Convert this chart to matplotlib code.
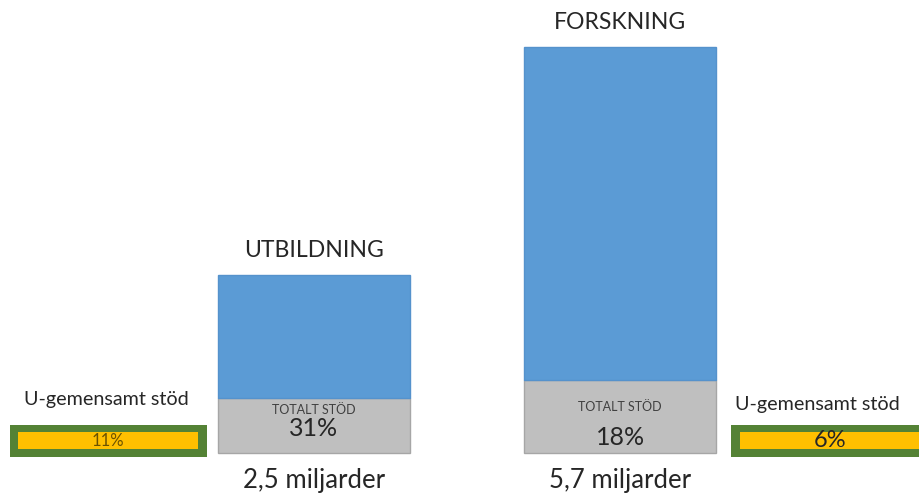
import matplotlib
matplotlib.use("Agg")
import matplotlib.pyplot as plt

# data
omraden = ["UTBILDNING", "FORSKNING"]
miljarder = [2.5, 5.7]
miljarder_txt = ["2,5 miljarder", "5,7 miljarder"]
totalt_stod = [0.31, 0.18]
u_gemensamt = [0.11, 0.06]

plt.rcParams['font.family'] = ['Lato', 'DejaVu Sans']

fig = plt.figure(figsize=(9.2, 4.94), dpi=100)
ax = fig.add_axes([0, 0, 1, 1])
ax.set_xlim(-1.026, 1.98)
ax.set_ylim(-0.576, 6.362)
ax.axis('off')

blue = '#5B9BD5'
gray = '#BFBFBF'
green = '#548235'
yellow = '#FFC000'
txt = '#262626'

x = [0, 1]
w = 0.627
gray_h = [m * t for m, t in zip(miljarder, totalt_stod)]
blue_h = [m - g for m, g in zip(miljarder, gray_h)]

ax.bar(x, gray_h, width=w, color=gray, edgecolor='#A6A6A6', linewidth=1)
ax.bar(x, blue_h, bottom=gray_h, width=w, color=blue, edgecolor='#5592CC', linewidth=1)

for i in range(2):
    ax.text(x[i], miljarder[i] + 0.2, omraden[i], ha='center', va='bottom',
            fontsize=16.6, color=txt)
    ax.text(x[i], -0.38, miljarder_txt[i], ha='center', va='center',
            fontsize=18.5, color=txt)

# totalt stöd labels inside gray part
ax.text(x[0], 0.61, "TOTALT STÖD", ha='center', va='center', fontsize=9, color='#404040')
ax.text(x[0], 0.35, f"{round(totalt_stod[0]*100)}%", ha='center', va='center',
        fontsize=18, color=txt)
ax.text(x[1], 0.65, "TOTALT STÖD", ha='center', va='center', fontsize=9, color='#404040')
ax.text(x[1], 0.22, f"{round(totalt_stod[1]*100)}%", ha='center', va='center',
        fontsize=18, color=txt)

# U-gemensamt stöd side boxes
side_x = [-0.672, 1.686]
side_w = 0.644
box_bot, box_h = -0.056, 0.449
ax.bar(side_x, [box_h, box_h], bottom=box_bot, width=side_w, color=green, linewidth=0)
ax.bar(side_x, [0.24, 0.24], bottom=box_bot + 0.105, width=side_w - 0.055,
       color=yellow, linewidth=0)
ax.text(side_x[0], box_bot + box_h / 2, f"{round(u_gemensamt[0]*100)}%",
        ha='center', va='center', fontsize=12, color='#6B5200')
ax.text(side_x[1], box_bot + box_h / 2, f"{round(u_gemensamt[1]*100)}%",
        ha='center', va='center', fontsize=17, color=txt)
ax.text(-0.68, 0.75, "U-gemensamt stöd", ha='center', va='center',
        fontsize=14.2, color=txt)
ax.text(1.645, 0.68, "U-gemensamt stöd", ha='center', va='center',
        fontsize=14.2, color=txt)

fig.savefig("out.png", dpi=100)
